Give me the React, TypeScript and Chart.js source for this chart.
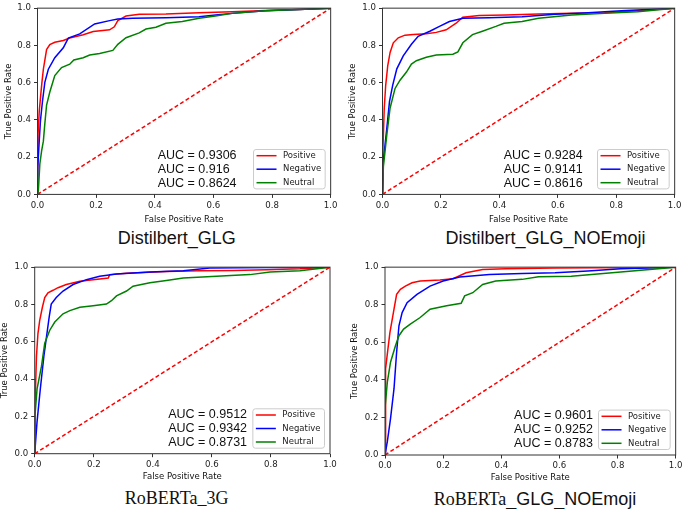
import React, { useEffect, useRef } from "react";
import { Chart, registerables } from "chart.js";

Chart.register(...registerables);

type Pt = [number, number];

// ---------- data ----------
const tickValues = [0, 0.2, 0.4, 0.6, 0.8, 1.0];
const legendLabels = ["Positive", "Negative", "Neutral"];
const seriesColors = ["#ff0000", "#0000ff", "#008000"];
const chanceLine: Pt[] = [[0, 0], [1, 1]];

const aucDistilGlg = [0.9306, 0.916, 0.8624];
const aucDistilNoEmoji = [0.9284, 0.9141, 0.8616];
const aucRobertaGlg3 = [0.9512, 0.9342, 0.8731];
const aucRobertaNoEmoji = [0.9601, 0.9252, 0.8783];

const distilGlgPositive: Pt[] = [[0,0],[0.002,0.324],[0.006,0.447],[0.01,0.517],[0.015,0.6],[0.02,0.672],[0.031,0.778],[0.042,0.804],[0.059,0.817],[0.088,0.826],[0.11,0.84],[0.156,0.857],[0.19,0.875],[0.246,0.884],[0.262,0.9],[0.274,0.933],[0.302,0.958],[0.347,0.967],[0.438,0.968],[0.551,0.975],[0.664,0.981],[0.777,0.988],[0.89,0.993],[1,1]];
const distilGlgNegative: Pt[] = [[0,0],[0.001,0.149],[0.006,0.289],[0.01,0.394],[0.017,0.5],[0.025,0.602],[0.037,0.672],[0.059,0.734],[0.088,0.787],[0.105,0.839],[0.144,0.862],[0.195,0.915],[0.246,0.933],[0.274,0.942],[0.325,0.946],[0.438,0.949],[0.551,0.954],[0.607,0.963],[0.664,0.972],[0.777,0.986],[0.89,0.993],[1,1]];
const distilGlgNeutral: Pt[] = [[0,0],[0.003,0.023],[0.008,0.164],[0.014,0.234],[0.02,0.286],[0.025,0.38],[0.031,0.48],[0.042,0.55],[0.059,0.638],[0.082,0.681],[0.11,0.699],[0.124,0.722],[0.156,0.734],[0.178,0.748],[0.212,0.757],[0.257,0.773],[0.274,0.806],[0.302,0.841],[0.347,0.867],[0.37,0.888],[0.404,0.898],[0.438,0.919],[0.494,0.928],[0.551,0.946],[0.607,0.958],[0.664,0.972],[0.777,0.986],[0.89,0.993],[1,1]];

const distilNoEmojiPositive: Pt[] = [[0,0],[0.001,0.219],[0.006,0.464],[0.011,0.587],[0.018,0.692],[0.026,0.762],[0.037,0.814],[0.054,0.841],[0.077,0.855],[0.105,0.858],[0.15,0.862],[0.184,0.87],[0.218,0.884],[0.252,0.919],[0.275,0.951],[0.331,0.96],[0.421,0.963],[0.534,0.968],[0.647,0.972],[0.76,0.975],[0.873,0.986],[1,1]];
const distilNoEmojiNegative: Pt[] = [[0,0],[0.003,0.184],[0.015,0.359],[0.024,0.499],[0.035,0.587],[0.049,0.674],[0.071,0.744],[0.099,0.806],[0.122,0.849],[0.162,0.876],[0.195,0.902],[0.229,0.928],[0.275,0.946],[0.365,0.949],[0.478,0.954],[0.591,0.967],[0.704,0.975],[0.817,0.986],[1,1]];
const distilNoEmojiNeutral: Pt[] = [[0,0],[0.003,0.149],[0.015,0.324],[0.026,0.464],[0.043,0.569],[0.06,0.613],[0.082,0.657],[0.099,0.7],[0.116,0.718],[0.15,0.736],[0.184,0.748],[0.241,0.753],[0.258,0.765],[0.275,0.814],[0.308,0.858],[0.342,0.876],[0.388,0.902],[0.416,0.919],[0.478,0.928],[0.534,0.946],[0.647,0.963],[0.76,0.972],[0.873,0.981],[1,1]];

const robertaGlg3Positive: Pt[] = [[0,0],[0.001,0.259],[0.006,0.522],[0.011,0.644],[0.017,0.715],[0.026,0.785],[0.034,0.837],[0.045,0.863],[0.062,0.876],[0.079,0.89],[0.107,0.907],[0.153,0.925],[0.198,0.933],[0.249,0.942],[0.254,0.96],[0.311,0.968],[0.446,0.977],[0.559,0.981],[0.672,0.982],[0.785,0.986],[0.898,0.991],[1,1]];
const robertaGlg3Negative: Pt[] = [[0,0],[0.008,0.172],[0.019,0.347],[0.031,0.522],[0.04,0.627],[0.049,0.732],[0.056,0.802],[0.073,0.837],[0.096,0.872],[0.13,0.907],[0.175,0.933],[0.22,0.951],[0.277,0.963],[0.39,0.974],[0.503,0.981],[0.593,0.995],[0.785,0.998],[1,1]];
const robertaGlg3Neutral: Pt[] = [[0,0],[0.001,0.207],[0.008,0.347],[0.023,0.469],[0.034,0.592],[0.051,0.662],[0.068,0.706],[0.096,0.75],[0.119,0.767],[0.153,0.785],[0.198,0.793],[0.243,0.802],[0.26,0.82],[0.277,0.846],[0.311,0.872],[0.333,0.898],[0.39,0.916],[0.446,0.928],[0.503,0.942],[0.616,0.951],[0.729,0.96],[0.797,0.974],[0.898,0.981],[1,1]];

const robertaNoEmojiPositive: Pt[] = [[0,0],[0.001,0.265],[0.003,0.459],[0.01,0.564],[0.017,0.653],[0.025,0.723],[0.031,0.776],[0.04,0.855],[0.053,0.882],[0.07,0.899],[0.093,0.917],[0.121,0.926],[0.189,0.931],[0.234,0.938],[0.279,0.97],[0.336,0.988],[0.415,0.991],[0.585,0.996],[1,1]];
const robertaNoEmojiNegative: Pt[] = [[0,0],[0.008,0.071],[0.019,0.194],[0.031,0.353],[0.04,0.547],[0.048,0.688],[0.059,0.758],[0.076,0.811],[0.11,0.855],[0.155,0.899],[0.2,0.926],[0.257,0.947],[0.359,0.961],[0.472,0.966],[0.585,0.97],[0.698,0.979],[0.811,0.991],[1,1]];
const robertaNoEmojiNeutral: Pt[] = [[0,0],[0.001,0.265],[0.008,0.388],[0.019,0.494],[0.036,0.582],[0.048,0.635],[0.064,0.67],[0.087,0.697],[0.121,0.732],[0.155,0.776],[0.212,0.794],[0.262,0.808],[0.274,0.847],[0.302,0.864],[0.336,0.908],[0.381,0.926],[0.472,0.935],[0.528,0.949],[0.641,0.952],[0.811,0.974],[1,1]];

const aucRowValues = [0.21, 0.135, 0.06];

// ---------- layout ----------
type Layout = {
  l: number; t: number; w: number; h: number;
  yW: number; xH: number; padT: number; padR: number;
  xTitlePad: number; yTitlePad: number; aucX: number;
};

const SANS = '"Liberation Sans", Arial, sans-serif';
const DEJAVU = '"DejaVu Sans", sans-serif';
const SERIF = '"Liberation Serif", "Times New Roman", serif';

function RocPanel(props: { layout: Layout; curves: Pt[][]; aucs: number[] }) {
  const ref = useRef<HTMLCanvasElement>(null);
  const { layout, curves, aucs } = props;
  useEffect(() => {
    if (!ref.current) return;
    const deco = {
      id: "rocDecor",
      afterDatasetsDraw(chart: any) {
        const { ctx, chartArea: a, scales } = chart;
        ctx.save();
        ctx.strokeStyle = "#333";
        ctx.lineWidth = 1;
        ctx.strokeRect(a.left, a.top, a.right - a.left, a.bottom - a.top);
        // AUC labels
        ctx.font = `12.5px ${SANS}`;
        ctx.fillStyle = "#111";
        ctx.textAlign = "left";
        ctx.textBaseline = "middle";
        const ax = scales.x.getPixelForValue(layout.aucX);
        aucs.forEach((v, i) => {
          ctx.fillText("AUC = " + v, ax, scales.y.getPixelForValue(aucRowValues[i]));
        });
        // legend
        ctx.font = `8.5px ${DEJAVU}`;
        const tw = Math.max(...legendLabels.map((s) => ctx.measureText(s).width));
        const w = 3 + 20 + 6.5 + tw + 4;
        const h = 39.4;
        const right = a.right - 5.5;
        const bottom = a.bottom - 5.5;
        const left = right - w;
        const top = bottom - h;
        ctx.beginPath();
        const r = 2.5;
        ctx.moveTo(left + r, top);
        ctx.lineTo(right - r, top);
        ctx.quadraticCurveTo(right, top, right, top + r);
        ctx.lineTo(right, bottom - r);
        ctx.quadraticCurveTo(right, bottom, right - r, bottom);
        ctx.lineTo(left + r, bottom);
        ctx.quadraticCurveTo(left, bottom, left, bottom - r);
        ctx.lineTo(left, top + r);
        ctx.quadraticCurveTo(left, top, left + r, top);
        ctx.closePath();
        ctx.fillStyle = "rgba(255,255,255,0.85)";
        ctx.fill();
        ctx.strokeStyle = "#cccccc";
        ctx.lineWidth = 1;
        ctx.stroke();
        legendLabels.forEach((lab, i) => {
          const cy = top + 6.2 + i * 13.5;
          ctx.strokeStyle = seriesColors[i];
          ctx.lineWidth = 1.5;
          ctx.beginPath();
          ctx.moveTo(left + 3, cy);
          ctx.lineTo(left + 23, cy);
          ctx.stroke();
          ctx.fillStyle = "#222";
          ctx.textAlign = "left";
          ctx.textBaseline = "middle";
          ctx.fillText(lab, left + 29.5, cy);
        });
        ctx.restore();
      },
    };
    const datasets: any[] = curves.map((c, i) => ({
      label: legendLabels[i],
      data: c.map(([x, y]) => ({ x, y })),
      borderColor: seriesColors[i],
      backgroundColor: seriesColors[i],
      borderWidth: 1.5,
      pointRadius: 0,
      showLine: true,
      fill: false,
      tension: 0,
      order: 4 - i,
    }));
    datasets.push({
      label: "chance",
      data: chanceLine.map(([x, y]) => ({ x, y })),
      borderColor: "#ff0000",
      borderWidth: 1.5,
      borderDash: [4, 2.5],
      pointRadius: 0,
      showLine: true,
      fill: false,
      order: 0,
    });
    const tickFont = { family: DEJAVU, size: 8.6 };
    const chart = new Chart(ref.current, {
      type: "scatter",
      data: { datasets },
      options: {
        responsive: false,
        animation: false,
        devicePixelRatio: 1,
        layout: { padding: { left: 0, top: layout.padT, right: layout.padR, bottom: 0 } },
        plugins: { legend: { display: false }, tooltip: { enabled: false } },
        scales: {
          x: {
            type: "linear",
            min: 0,
            max: 1,
            afterBuildTicks: (s: any) => {
              s.ticks = tickValues.map((v) => ({ value: v }));
            },
            ticks: {
              callback: (v: any) => Number(v).toFixed(1),
              font: tickFont,
              color: "#222",
              padding: 2.5,
              maxRotation: 0,
              autoSkip: false,
            },
            grid: { display: true, drawOnChartArea: false, drawTicks: true, tickLength: 3.5, color: "#333", lineWidth: 1 },
            border: { display: false },
            title: {
              display: true,
              text: "False Positive Rate",
              font: { family: DEJAVU, size: 8.5 },
              color: "#111",
              padding: { top: 0, bottom: layout.xTitlePad },
            },
            afterFit: (s: any) => {
              s.height = layout.xH;
            },
          },
          y: {
            type: "linear",
            min: 0,
            max: 1,
            afterBuildTicks: (s: any) => {
              s.ticks = tickValues.map((v) => ({ value: v }));
            },
            ticks: {
              callback: (v: any) => Number(v).toFixed(1),
              font: tickFont,
              color: "#222",
              padding: 3,
              autoSkip: false,
            },
            grid: { display: true, drawOnChartArea: false, drawTicks: true, tickLength: 3.5, color: "#333", lineWidth: 1 },
            border: { display: false },
            title: {
              display: true,
              text: "True Positive Rate",
              font: { family: DEJAVU, size: 8.5 },
              color: "#111",
              padding: { top: layout.yTitlePad, bottom: 0 },
            },
            afterFit: (s: any) => {
              s.width = layout.yW;
            },
          },
        },
      } as any,
      plugins: [deco],
    });
    return () => chart.destroy();
  }, []);
  return (
    <canvas
      ref={ref}
      width={layout.w}
      height={layout.h}
      style={{ position: "absolute", left: layout.l, top: layout.t, width: layout.w, height: layout.h }}
    />
  );
}

const layout1: Layout = { l: 0, t: 0, w: 340, h: 228, yW: 37.5, xH: 33.6, padT: 4.5, padR: 7.7, xTitlePad: 3.5, yTitlePad: 3.2, aucX: 0.41 };
const layout2: Layout = { l: 344, t: 0, w: 340, h: 228, yW: 38.5, xH: 33.6, padT: 4.5, padR: 7, xTitlePad: 3.3, yTitlePad: 3.2, aucX: 0.415 };
const layout3: Layout = { l: 0, t: 259, w: 340, h: 229, yW: 34.7, xH: 34.3, padT: 5, padR: 10, xTitlePad: 6, yTitlePad: 0, aucX: 0.452 };
const layout4: Layout = { l: 344, t: 259, w: 341, h: 229, yW: 41, xH: 33, padT: 7, padR: 7, xTitlePad: 5.3, yTitlePad: 5.9, aucX: 0.444 };

function Title(props: { cx: number; cy: number; children: React.ReactNode; font: string }) {
  return (
    <div
      style={{
        position: "absolute",
        left: props.cx - 170,
        width: 340,
        top: props.cy - 10,
        height: 20,
        lineHeight: "20px",
        textAlign: "center",
        fontSize: 18,
        fontFamily: props.font,
        color: "#111",
        whiteSpace: "nowrap",
      }}
    >
      {props.children}
    </div>
  );
}

export default function App() {
  return (
    <div style={{ position: "absolute", left: 0, top: 0, width: 685, height: 509, background: "#fff" }}>
      <RocPanel layout={layout1} curves={[distilGlgPositive, distilGlgNegative, distilGlgNeutral]} aucs={aucDistilGlg} />
      <RocPanel layout={layout2} curves={[distilNoEmojiPositive, distilNoEmojiNegative, distilNoEmojiNeutral]} aucs={aucDistilNoEmoji} />
      <RocPanel layout={layout3} curves={[robertaGlg3Positive, robertaGlg3Negative, robertaGlg3Neutral]} aucs={aucRobertaGlg3} />
      <RocPanel layout={layout4} curves={[robertaNoEmojiPositive, robertaNoEmojiNegative, robertaNoEmojiNeutral]} aucs={aucRobertaNoEmoji} />
      <Title cx={176.7} cy={238} font={SANS}>Distilbert_GLG</Title>
      <Title cx={545.5} cy={238} font={SANS}>Distilbert_GLG_NOEmoji</Title>
      <Title cx={176.7} cy={497.7} font={SERIF}>RoBERTa_3G</Title>
      <Title cx={535} cy={498.5} font={SANS}>
        <span style={{ fontFamily: SERIF }}>RoBERTa</span>
        <span>_GLG_NOEmoji</span>
      </Title>
    </div>
  );
}
